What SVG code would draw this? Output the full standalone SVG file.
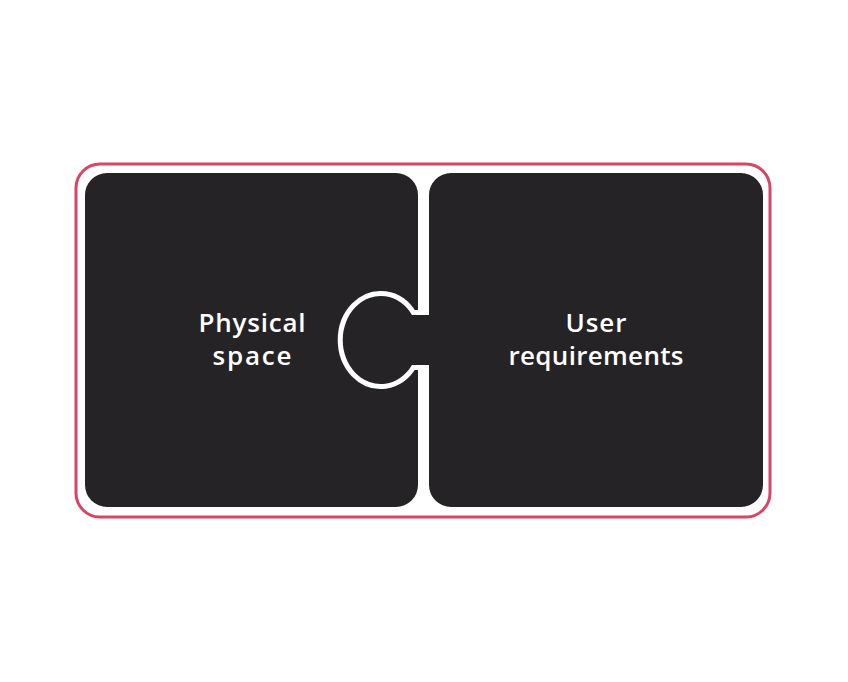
<svg xmlns="http://www.w3.org/2000/svg" width="848" height="682" viewBox="0 0 848 682">
  <style>
    .tile { fill: #252326; }
    .label { font-family: "Open Sans", "Liberation Sans", sans-serif; font-size: 26px; font-weight: 600; fill: #ffffff; text-anchor: middle; }
  </style>
  <rect x="0" y="0" width="848" height="682" fill="#ffffff"/>
  <g id="frame">
    <rect x="76" y="164" width="694" height="353" rx="24" ry="24" fill="none" stroke="#d84667" stroke-width="3"/>
  </g>
  <g id="physical-space">
    <rect class="tile" x="85" y="173" width="333" height="334" rx="22" ry="22"/>
    <text class="label" x="252" y="332" textLength="107" lengthAdjust="spacing">Physical</text>
    <text class="label" x="252" y="365" textLength="79" lengthAdjust="spacing">space</text>
  </g>
  <g id="user-requirements">
    <path class="tile" stroke="#ffffff" stroke-width="10" stroke-linejoin="round" paint-order="stroke" d="M 451 173 H 741 A 22 22 0 0 1 763 195 V 485 A 22 22 0 0 1 741 507 H 451 A 22 22 0 0 1 429 485 V 365 H 412 A 38 44 0 1 1 412 315 H 429 V 195 A 22 22 0 0 1 451 173 Z"/>
    <text class="label" x="596" y="332" textLength="61" lengthAdjust="spacing">User</text>
    <text class="label" x="596" y="365" textLength="175" lengthAdjust="spacing">requirements</text>
  </g>
  <g id="connectors"/>
</svg>
